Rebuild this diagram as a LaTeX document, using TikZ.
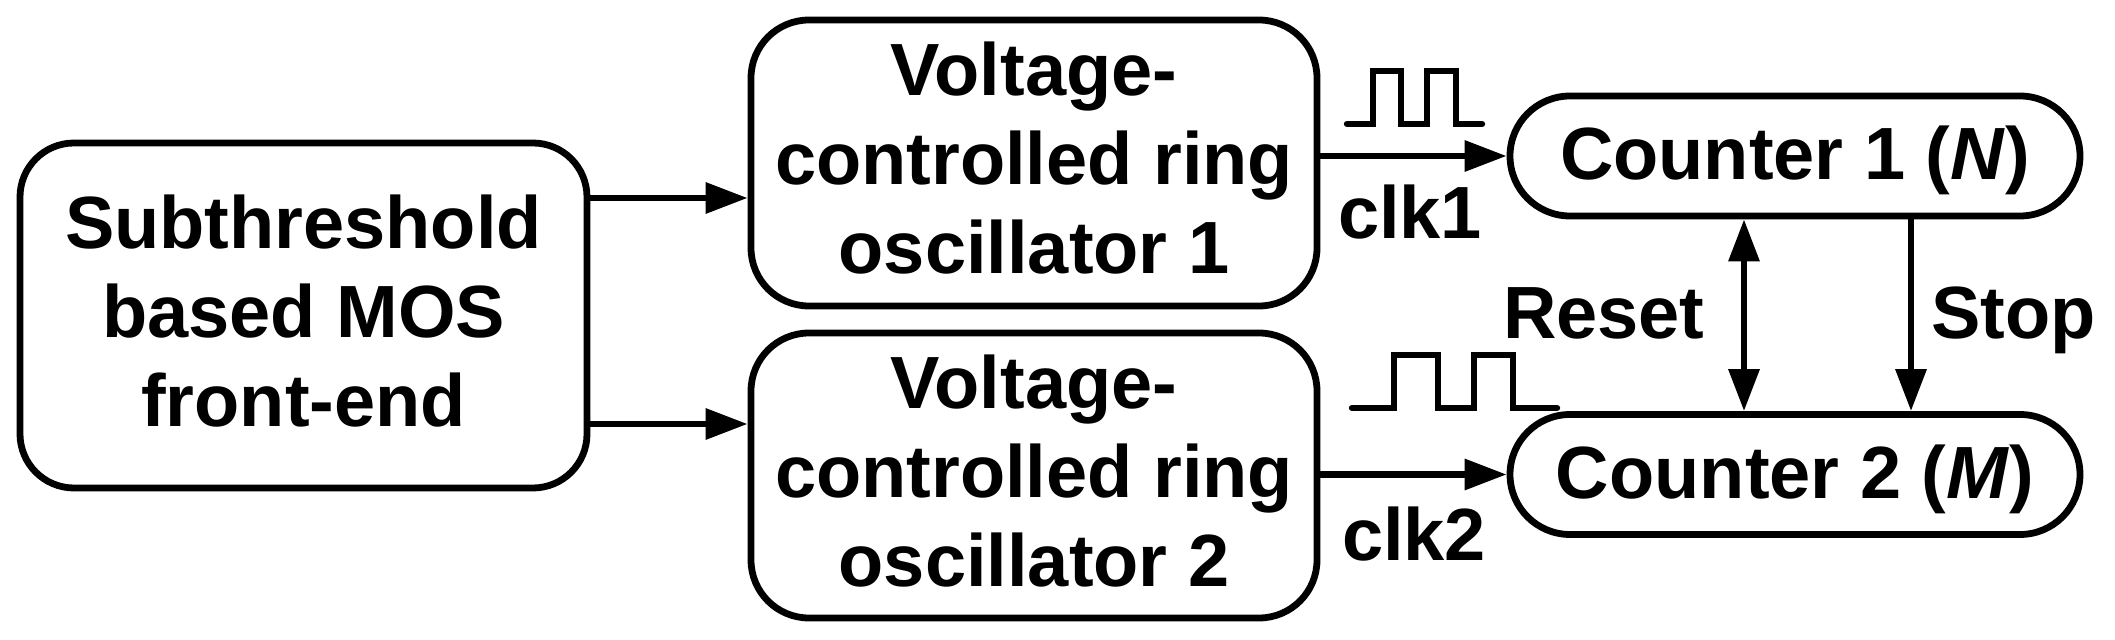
\documentclass[tikz,border=0pt]{standalone}
\usepackage{fontspec}
\setmainfont{Liberation Sans}
\usetikzlibrary{arrows.meta,calc}
\begin{document}
\begin{tikzpicture}[x=0.5pt,y=-0.5pt,
  every node/.style={font=\fontsize{37}{44.5}\selectfont\bfseries},
  blockbox/.style={draw,line width=3.4pt,rounded corners=27pt,align=center,inner sep=0pt,text depth=5pt},
  cntbox/.style={draw,line width=3.4pt,rounded corners=30pt,inner sep=0pt,minimum width=285pt,minimum height=60pt,text height=27pt,text depth=3pt},
  arr/.style={line width=3.2pt,-{Triangle[length=21pt,width=15pt]}},
  darr/.style={line width=3.2pt,{Triangle[length=21pt,width=15pt]}-{Triangle[length=21pt,width=15pt]}},
  wave/.style={line width=3.2pt,line cap=round,line join=miter},
  lbl/.style={anchor=base,inner sep=0pt}]
\useasboundingbox (0,0) rectangle (2115,640);
\node[blockbox,minimum width=283.5pt,minimum height=172.5pt] (front) at (303.5,315.5)
  {Subthreshold\\based MOS\\front-end};
\node[blockbox,minimum width=283pt,minimum height=143pt,rounded corners=29pt] (vco1) at (1034,163)
  {Voltage-\\controlled ring\\oscillator 1};
\node[blockbox,minimum width=283pt,minimum height=142.5pt,rounded corners=29pt] (vco2) at (1034,475.5)
  {Voltage-\\controlled ring\\oscillator 2};
\node[cntbox] (c1) at (1795,156) {Counter 1 (\textit{N})};
\node[cntbox] (c2) at (1795,474.5) {Counter 2 (\textit{M})};
\coordinate (p1) at (0,198);
\coordinate (p2) at (0,424);
\coordinate (rx) at (1744,0);
\coordinate (sx) at (1911,0);
\draw[arr] (front.east |- p1) -- (vco1.west |- p1);
\draw[arr] (front.east |- p2) -- (vco2.west |- p2);
\draw[arr] (c1.west -| vco1.east) -- (c1.west);
\draw[arr] (c2.west -| vco2.east) -- (c2.west);
\draw[darr] (c1.south -| rx) -- (c2.north -| rx);
\draw[arr] (c1.south -| sx) -- (c2.north -| sx);
\node[lbl] (clk1) at (1410,239) {clk1};
\node[lbl] (clk2) at (1414,561) {clk2};
\node[lbl,anchor=base east] (reset) at (1705,339) {Reset};
\node[lbl,anchor=base west] (stop) at (1931,339) {Stop};
\draw[wave] (1347,124) -- (1373,124) -- (1373,71) -- (1401,71) -- (1401,124) -- (1427,124) -- (1427,71) -- (1456,71) -- (1456,124) -- (1482,124);
\draw[wave] (1352,408) -- (1394,408) -- (1394,355) -- (1438,355) -- (1438,408) -- (1474,408) -- (1474,355) -- (1513,355) -- (1513,408) -- (1557,408);
\end{tikzpicture}
\end{document}
